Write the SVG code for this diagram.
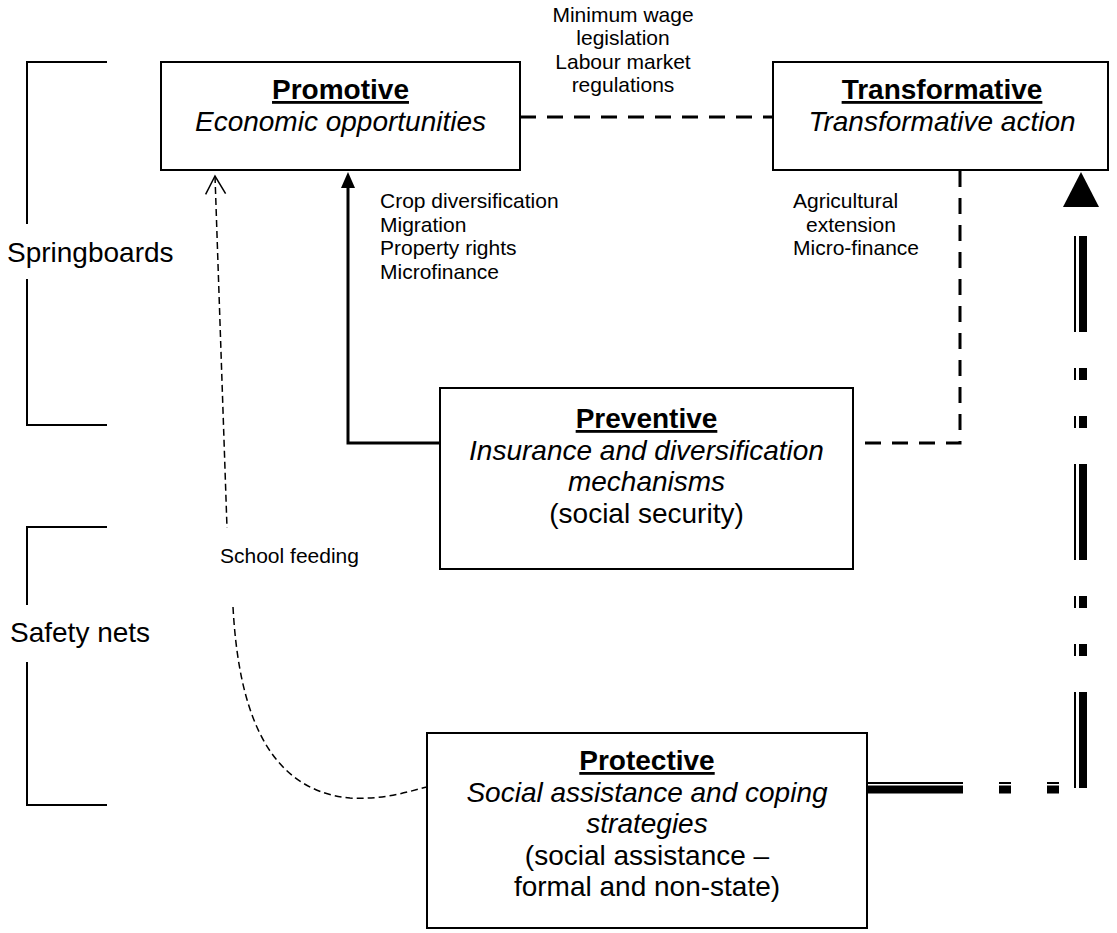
<svg xmlns="http://www.w3.org/2000/svg" width="1117" height="933" viewBox="0 0 1117 933">
<style>
.box{fill:#fff;stroke:#000;stroke-width:2}
.t{font-family:"Liberation Sans",Arial,sans-serif;font-size:28px;text-anchor:middle;fill:#000}
.h{font-weight:bold;text-decoration:underline}
.i{font-style:italic}
.s{font-family:"Liberation Sans",Arial,sans-serif;font-size:21px;fill:#000}
.side{font-family:"Liberation Sans",Arial,sans-serif;font-size:28px;fill:#000}
.br{fill:none;stroke:#000;stroke-width:2}
.thickdash{fill:none;stroke:#000;stroke-width:3;stroke-dasharray:16 11}
.solid{fill:none;stroke:#000;stroke-width:3}
.thindash{fill:none;stroke:#000;stroke-width:1.5;stroke-dasharray:7 4}
.dd{fill:none;stroke:#000;stroke-dasharray:96 36 12 36 12 36}
.ddthick{stroke-width:8}
.ddthin{stroke-width:2}
</style>
<defs>
<marker id="solidArrow" viewBox="0 0 16 14" refX="8" refY="7" markerWidth="16" markerHeight="14" markerUnits="userSpaceOnUse" orient="auto">
<path d="M0,0 L16,7 L0,14 z" fill="#000"/>
</marker>
<marker id="openArrow" viewBox="-1 -1 20 22" refX="18" refY="10" markerWidth="20" markerHeight="22" markerUnits="userSpaceOnUse" orient="auto-start-reverse" overflow="visible">
<path d="M0,0 L18,10 L0,20" fill="none" stroke="#000" stroke-width="1.5"/>
</marker>
</defs>

<g id="labels">
<text class="side" x="7" y="262">Springboards</text>
<text class="side" x="10" y="642">Safety nets</text>
<path class="br" d="M107,62 H27 V224 M27,279 V425 H107"/>
<path class="br" d="M107,527 H27 V605 M27,662 V805 H107"/>
</g>

<g id="connectors">
<line class="thickdash" x1="520" y1="117" x2="773" y2="117"/>
<path class="thickdash" d="M960,171 V443 H853"/>
<path class="solid" d="M440,443 H348 V180" marker-end="url(#solidArrow)"/>
<path class="thindash" d="M215,176 L227,528" marker-start="url(#openArrow)"/>
<path class="thindash" d="M233,607 C238,700 262,790 350,798 C385,800 410,791 427,787"/>
<path class="dd ddthick" d="M867,789.5 H1087"/>
<path class="dd ddthin" d="M867,783 H1076"/>
<path class="dd ddthick" d="M1083,788 V207"/>
<path class="dd ddthin" d="M1075,788 V207"/>
<polygon points="1081,172 1063,207 1099,207" fill="#000"/>
<g class="s">
<text x="623" y="21.5" text-anchor="middle">Minimum wage</text>
<text x="623" y="45" text-anchor="middle">legislation</text>
<text x="623" y="68.5" text-anchor="middle">Labour market</text>
<text x="623" y="92" text-anchor="middle">regulations</text>
<text x="380" y="208">Crop diversification</text>
<text x="380" y="231.5">Migration</text>
<text x="380" y="255">Property rights</text>
<text x="380" y="278.5">Microfinance</text>
<text x="793" y="208">Agricultural</text>
<text x="806" y="231.5">extension</text>
<text x="793" y="255">Micro-finance</text>
<text x="220" y="563">School feeding</text>
</g>
</g>

<g id="promotive">
<rect class="box" x="161" y="62" width="359" height="108"/>
<text class="t h" x="340.5" y="99">Promotive</text>
<text class="t i" x="340.5" y="130.5">Economic opportunities</text>
</g>

<g id="transformative">
<rect class="box" x="773" y="62" width="335" height="108"/>
<text class="t h" x="942" y="99">Transformative</text>
<text class="t i" x="942" y="130.5">Transformative action</text>
</g>

<g id="preventive">
<rect class="box" x="440" y="388" width="413" height="181"/>
<text class="t h" x="646.5" y="428">Preventive</text>
<text class="t i" x="646.5" y="459.5">Insurance and diversification</text>
<text class="t i" x="646.5" y="491">mechanisms</text>
<text class="t" x="646.5" y="522.5">(social security)</text>
</g>

<g id="protective">
<rect class="box" x="427" y="733" width="440" height="195"/>
<text class="t h" x="647" y="770">Protective</text>
<text class="t i" x="647" y="801.5">Social assistance and coping</text>
<text class="t i" x="647" y="833">strategies</text>
<text class="t" x="647" y="864.5">(social assistance –</text>
<text class="t" x="647" y="896">formal and non-state)</text>
</g>
</svg>
